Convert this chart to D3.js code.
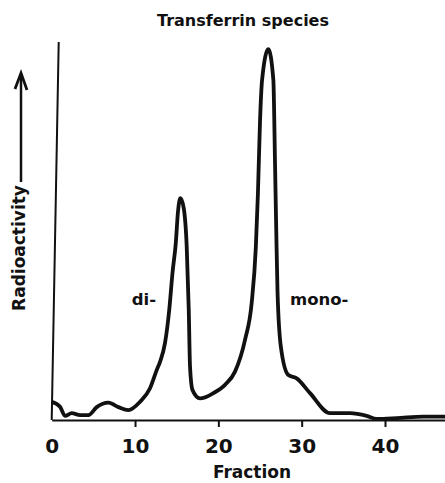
<!DOCTYPE html>
<html>
<head>
<meta charset="utf-8">
<script src="https://cdn.jsdelivr.net/npm/d3@7"></script>
<style>
	body { margin: 0; background: #fff; }
	svg { display: block; }
	.lbl { font-family: "DejaVu Sans", sans-serif; font-weight: bold; fill: #111; }
</style>
</head>
<body>
<svg></svg>
<script>
var W = 445,
	H = 483;

// fraction number (x) and radioactivity in arbitrary units (y)
var fractions = [0, 1.0, 1.6, 2.4, 3.4, 4.4, 5.4, 6.8, 8.0, 9.2, 10.6, 11.8, 12.6, 13.0,
	13.6, 14.1, 14.5, 14.9, 15.15, 15.45, 15.85, 16.2, 16.45, 16.6, 16.9, 17.8, 19.4,
	20.8, 22.0, 23.2, 24.0, 24.5, 24.75, 25.0, 25.25, 26.0, 26.6, 26.8, 26.95, 27.1,
	27.5, 28.4, 29.4, 31.0, 33.4, 35.8, 37.8, 39.0, 41.4, 44.6, 47.2];
var activity = [4.8, 3.5, 1.1, 1.8, 1.3, 1.3, 3.4, 4.6, 3.4, 2.6, 4.8, 8.4, 13.2, 15.4,
	20.4, 29, 39, 47, 55, 58.7, 56, 46, 29, 14.1, 7.9, 5.7, 7.1,
	9.3, 12.8, 21.2, 31, 45.8, 60, 79, 90, 98.1, 90, 68, 50, 34,
	19.4, 11.9, 11, 7.1, 1.8, 1.8, 1.1, 0.3, 0.5, 0.9, 0.9];

var xTicks = [0, 10, 20, 30, 40];
var peakLabels = [
	{ text: "di-", f: 9.6, v: 30.5 },
	{ text: "mono-", f: 28.6, v: 30.5 }
];

var data = fractions.map(function(f, i) {
	return { f: f, v: activity[i] };
});

var x = d3.scaleLinear().domain([0, 47.2]).range([51.7, 445]);
var y = d3.scaleLinear().domain([0, 100]).range([420, 42]);

var svg = d3.select("svg").attr("width", W).attr("height", H);

// x axis
var xaxis = svg
	.append("g")
	.attr("transform", "translate(0," + y(0) + ")")
	.call(d3.axisBottom(x).tickValues(xTicks).tickSize(7).tickSizeOuter(0).tickFormat(d3.format("d")));

xaxis.select(".domain").attr("stroke", "#111").attr("stroke-width", 2.2);
xaxis.selectAll(".tick line").attr("stroke", "#111").attr("stroke-width", 2)
	.filter(function(d) { return d === 0; }).remove();
xaxis.selectAll(".tick text")
	.attr("y", 33)
	.attr("dy", 0)
	.attr("fill", "#111")
	.attr("font-family", "DejaVu Sans, sans-serif")
	.attr("font-weight", "bold")
	.attr("font-size", 20);

// y axis (slightly leaning, as drawn)
svg.append("line")
	.attr("x1", x(0)).attr("y1", y(0))
	.attr("x2", x(0) + 7).attr("y2", y(100))
	.attr("stroke", "#111")
	.attr("stroke-width", 2);

// trace
var line = d3.line()
	.x(function(d) { return x(d.f); })
	.y(function(d) { return y(d.v); })
	.curve(d3.curveMonotoneX);

svg.append("path")
	.datum(data)
	.attr("fill", "none")
	.attr("stroke", "#111")
	.attr("stroke-width", 3.8)
	.attr("stroke-linejoin", "round")
	.attr("d", line);

// labels
svg.append("text")
	.attr("class", "lbl")
	.attr("x", 243)
	.attr("y", 26)
	.attr("text-anchor", "middle")
	.attr("font-size", 16)
	.text("Transferrin species");

svg.append("text")
	.attr("class", "lbl")
	.attr("x", 252)
	.attr("y", 478)
	.attr("text-anchor", "middle")
	.attr("font-size", 17)
	.text("Fraction");

svg.selectAll(".peak")
	.data(peakLabels)
	.enter()
	.append("text")
	.attr("class", "lbl peak")
	.attr("x", function(d) { return x(d.f); })
	.attr("y", function(d) { return y(d.v); })
	.attr("font-size", 16.5)
	.text(function(d) { return d.text; });

svg.append("text")
	.attr("class", "lbl")
	.attr("transform", "translate(25,248) rotate(-90)")
	.attr("text-anchor", "middle")
	.attr("font-size", 17)
	.text("Radioactivity");

// arrow beside the y label
svg.append("line")
	.attr("x1", 21).attr("y1", 182)
	.attr("x2", 21).attr("y2", 74)
	.attr("stroke", "#111")
	.attr("stroke-width", 2.5);

svg.append("path")
	.attr("d", "M15,89 L21,73 L27,90")
	.attr("fill", "none")
	.attr("stroke", "#111")
	.attr("stroke-width", 2.8)
	.attr("stroke-linejoin", "miter");
</script>
</body>
</html>
